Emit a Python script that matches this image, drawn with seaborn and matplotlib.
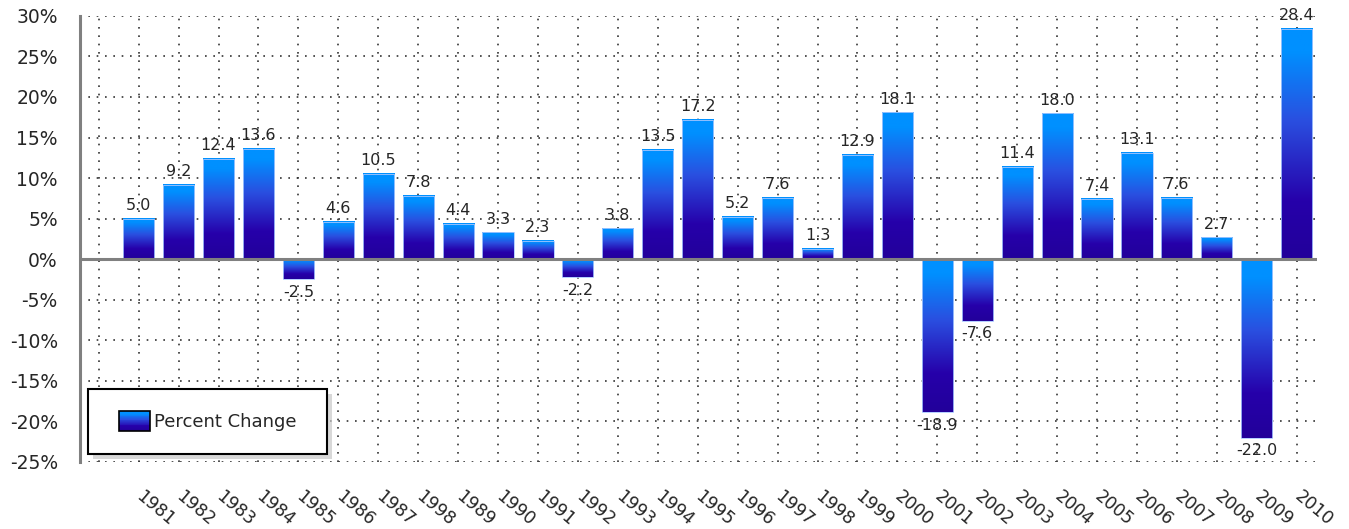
import numpy as np
import pandas as pd
import matplotlib
matplotlib.use("Agg")
import matplotlib.pyplot as plt
import seaborn as sns
from matplotlib.colors import LinearSegmentedColormap
from matplotlib.legend_handler import HandlerBase
from matplotlib.patches import Rectangle, Patch
from matplotlib.ticker import FixedLocator, FuncFormatter

# Data
years = ["1981", "1982", "1983", "1984", "1985", "1986", "1987", "1998", "1989", "1990",
         "1991", "1992", "1993", "1994", "1995", "1996", "1997", "1998", "1999", "2000",
         "2001", "2002", "2003", "2004", "2005", "2006", "2007", "2008", "2009", "2010"]
pct_change = [5.0, 9.2, 12.4, 13.6, -2.5, 4.6, 10.5, 7.8, 4.4, 3.3,
              2.3, -2.2, 3.8, 13.5, 17.2, 5.2, 7.6, 1.3, 12.9, 18.1,
              -18.9, -7.6, 11.4, 18.0, 7.4, 13.1, 7.6, 2.7, -22.0, 28.4]
y_ticks = [30, 25, 20, 15, 10, 5, 0, -5, -10, -15, -20, -25]

# gradient: dark indigo at bottom, bright blue at top
grad = LinearSegmentedColormap.from_list(
    "bars", [(0.0, "#22009a"), (0.25, "#2600aa"), (0.6, "#2a4fe0"), (0.9, "#0090ff"), (1.0, "#0090ff")])


class GradientHandler(HandlerBase):
    def create_artists(self, legend, orig_handle, xdescent, ydescent,
                       width, height, fontsize, trans):
        n = 24
        arts = []
        for i in range(n):
            arts.append(Rectangle((-xdescent, -ydescent + i * height / n), width, height / n + 0.3,
                                  facecolor=grad(i / (n - 1)), edgecolor="none", transform=trans))
        arts.append(Rectangle((-xdescent, -ydescent), width, height, facecolor="none",
                              edgecolor="black", lw=1.2, transform=trans))
        return arts


def main():
    sns.set_style("white")
    plt.rcParams["font.family"] = ["DejaVu Sans"]

    df = pd.DataFrame({"pos": np.arange(len(years)), "year": years, "value": pct_change})

    fig = plt.figure(figsize=(13.49, 5.29), dpi=100)
    ax = fig.add_axes([0.0593, 0.1267, 0.9167, 0.8433])

    sns.barplot(data=df, x="pos", y="value", width=0.78, color="#0090ff", ax=ax)

    # replace flat bars by vertical gradients
    g = np.linspace(0, 1, 256).reshape(-1, 1)
    for patch, v in zip(ax.patches, df["value"]):
        x0 = patch.get_x()
        w = patch.get_width()
        patch.set_visible(False)
        ax.imshow(g, cmap=grad, origin="lower", aspect="auto", interpolation="bilinear",
                  extent=(x0, x0 + w, min(0, v), max(0, v)), zorder=3)
        ax.add_patch(Rectangle((x0, min(0, v)), w, abs(v), facecolor="none",
                               edgecolor="#a8c8ff", lw=0.6, zorder=3.5))
        if v >= 0:
            ax.annotate(f"{v:.1f}", (x0 + w / 2, v), xytext=(0, 4), textcoords="offset points",
                        ha="center", va="bottom", fontsize=11.5, zorder=5)
        else:
            ax.annotate(f"{v:.1f}", (x0 + w / 2, v), xytext=(0, -4), textcoords="offset points",
                        ha="center", va="top", fontsize=11.5, zorder=5)

    ax.set_xlim(-1.47, 29.5)
    ax.set_ylim(-25, 30)

    # grid
    ax.xaxis.set_major_locator(FixedLocator(list(range(0, len(years)))))
    ax.set_xticklabels(years)
    ax.yaxis.set_major_locator(FixedLocator(y_ticks))
    ax.yaxis.set_major_formatter(FuncFormatter(lambda v, p: f"{v:.0f}%"))
    grid_kw = dict(color="#333333", lw=1.2, linestyle=(0, (1, 4)), zorder=1)
    for yt in y_ticks:
        ax.axhline(yt, **grid_kw)
    for xt in range(-1, len(years)):
        ax.axvline(xt, **grid_kw)

    ax.axhline(0, color="#808080", lw=2.2, zorder=4)

    for s in ["top", "right", "bottom"]:
        ax.spines[s].set_visible(False)
    ax.spines["left"].set_color("#808080")
    ax.spines["left"].set_linewidth(2.2)

    ax.tick_params(axis="y", length=0, pad=16, labelsize=13.5)
    ax.tick_params(axis="x", length=0, pad=23, labelsize=12.5)
    for lbl in ax.get_xticklabels():
        lbl.set_rotation(-40)
        lbl.set_rotation_mode("anchor")
        lbl.set_ha("left")
        lbl.set_va("center")
    ax.set_xlabel("")
    ax.set_ylabel("")

    # legend box drawn by hand so it gets the reference size, with a soft shadow
    box = (0.0065, 0.018, 0.193, 0.146)
    ax.add_patch(Rectangle((box[0] + 0.004, box[1] - 0.012), box[2], box[3], transform=ax.transAxes,
                           facecolor="#c8c8c8", edgecolor="none", alpha=0.7, zorder=6))
    ax.add_patch(Rectangle(box[:2], box[2], box[3], transform=ax.transAxes,
                           facecolor="white", edgecolor="black", lw=1.5, zorder=6.1))
    leg = ax.legend([Patch()], ["Percent Change"], handler_map={Patch: GradientHandler()},
                    loc="center", bbox_to_anchor=box, fontsize=13, frameon=False,
                    borderpad=0, handlelength=1.75, handleheight=1.3, handletextpad=0.2,
                    borderaxespad=0)
    leg.set_zorder(7)

    fig.savefig("out.png", dpi=100)
    plt.close(fig)


if __name__ == "__main__":
    main()
